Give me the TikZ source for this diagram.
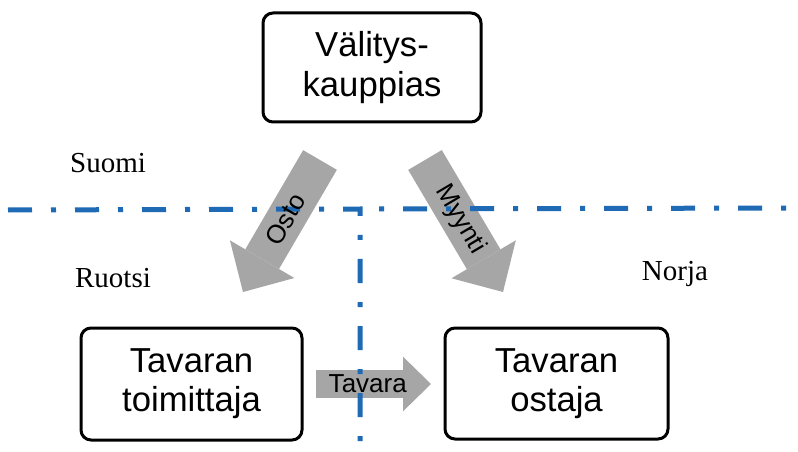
\documentclass[tikz,border=0pt]{standalone}
\usepackage{fontspec}
\setmainfont{Liberation Serif}
\setsansfont{Liberation Sans}
\usetikzlibrary{arrows.meta}
\definecolor{rajasin}{RGB}{30,106,180}
\definecolor{harmaa}{RGB}{166,166,166}
\tikzset{
	laatikko/.style={draw, line width=2.25pt, rounded corners=7.5pt, align=center, inner sep=0pt,
		font=\sffamily\fontsize{26}{29.5}\selectfont},
	raja/.style={draw=rajasin, line width=3.75pt, dash pattern=on 18pt off 14.25pt on 3.75pt off 14.25pt},
	maa/.style={anchor=base, font=\fontsize{21.75}{24}\selectfont},
	kauppa/.style n args={3}{draw=harmaa, line width=#1, -{Triangle[width=#2, length=#3, line width=0pt]}},
	nimi/.style={inner sep=0pt, font=\sffamily\fontsize{19.5}{20}\selectfont}
}

\begin{document}
\begin{tikzpicture}[x=0.75pt, y=-0.75pt]
		\useasboundingbox (0,0) rectangle (798,452);

		\node[laatikko, minimum width=163.5pt, minimum height=81.75pt] (valittaja) at (372,67.5)  {Välitys-\\kauppias};
		\node[laatikko, minimum width=165.75pt, minimum height=84pt]   (toimittaja) at (191.5,384) {Tavaran\\toimittaja};
		\node[laatikko, minimum width=167.25pt, minimum height=83.25pt] (ostaja)    at (556.5,383.5) {Tavaran\\ostaja};

		\node[maa] (suomi)  at (108,173) {Suomi};
		\node[maa] (ruotsi) at (113,287) {Ruotsi};
		\node[maa] (norja)  at (675,280) {Norja};

		\coordinate (ostoA)   at (320,160);
		\coordinate (ostoB)   at (243,292);
		\coordinate (myyntiA) at (425,160);
		\coordinate (myyntiB) at (503,292);
		\coordinate (tavaraA) at (316,384);
		\coordinate (tavaraB) at (431,384);

		\draw[kauppa={29.25pt}{56pt}{28.5pt}] (ostoA)   -- (ostoB);
		\draw[kauppa={29.25pt}{56pt}{28.5pt}] (myyntiA) -- (myyntiB);
		\draw[kauppa={21pt}{41pt}{21pt}]      (tavaraA) -- (tavaraB);

		% rajat
		\coordinate (rajaV) at (8,210);
		\coordinate (rajaK) at (360,209);
		\coordinate (rajaA) at (360,452);
		\coordinate (rajaO) at (792,208);
		\draw[raja] (rajaV) -- (rajaK) -- (rajaA);
		\draw[raja, dash phase=18pt] (rajaK) -- (rajaO);

		\path (ostoA)   -- node[nimi, sloped, pos=0.45] {Osto}   (ostoB);
		\path (myyntiA) -- node[nimi, sloped, pos=0.45] {Myynti} (myyntiB);
		\path (tavaraA) -- node[nimi, pos=0.45]         {Tavara} (tavaraB);
	\end{tikzpicture}
\end{document}
